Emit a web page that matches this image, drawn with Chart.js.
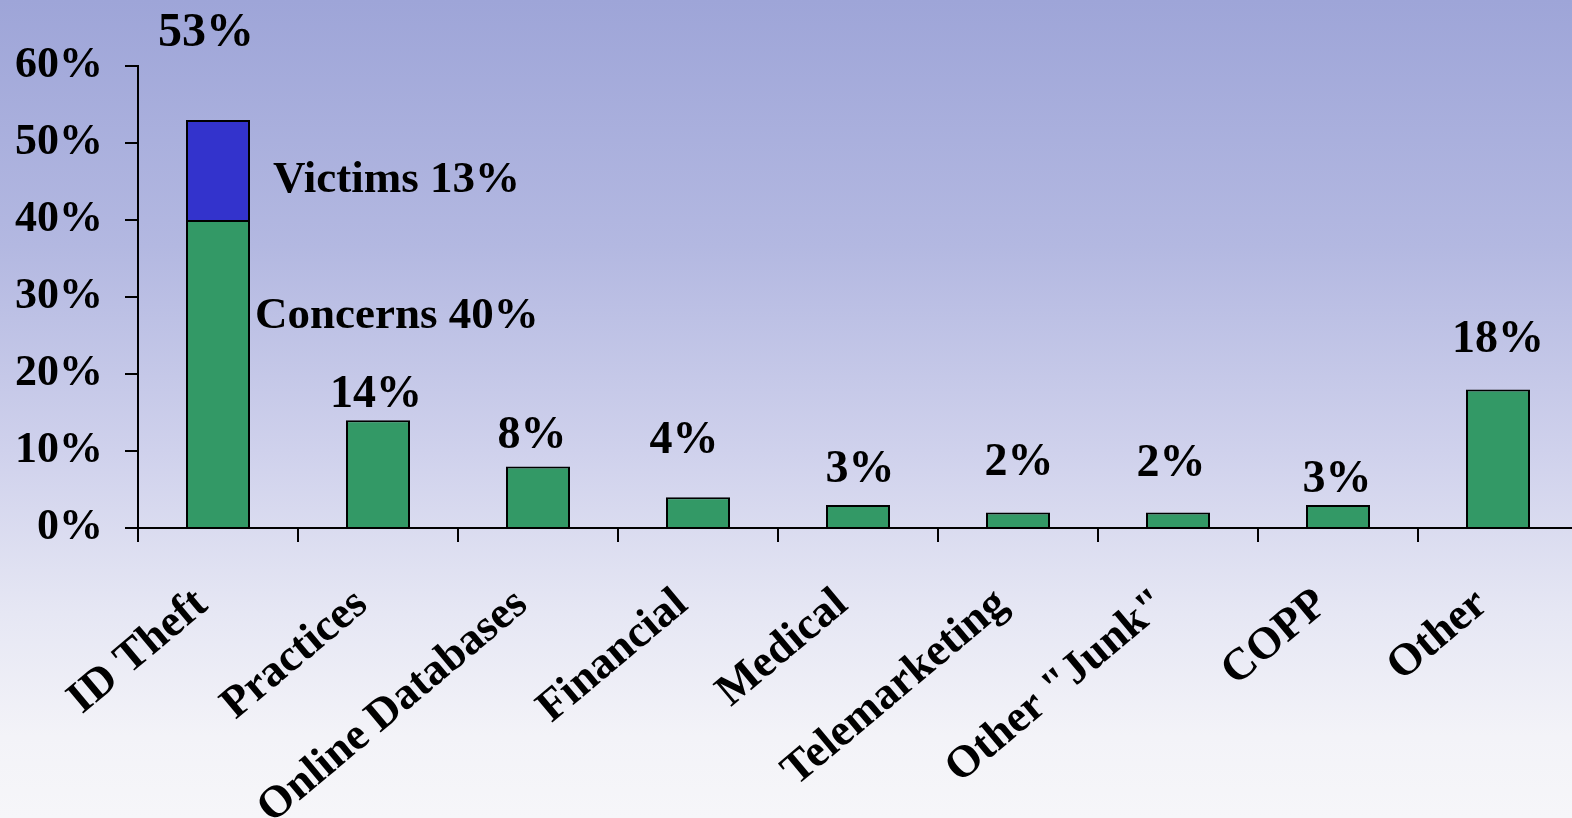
<!DOCTYPE html>
<html>
<head>
<meta charset="utf-8">
<script src="https://cdn.jsdelivr.net/npm/chart.js@4.4.1/dist/chart.umd.min.js"></script>
<style>
  html, body {
    margin: 0;
    padding: 0;
    width: 1572px;
    height: 818px;
    overflow: hidden;
    background: linear-gradient(to bottom, #9ea5d8 0%, #b3b8e1 30%, #cfd1ec 55%, #e6e7f4 75%, #f3f3f8 90%, #f6f6f9 100%);
  }
  #chart { display: block; }
</style>
</head>
<body>
<canvas id="chart" width="1578" height="818"></canvas>
<script>
// categorias e valores (%)
const categories = ['ID Theft', 'Practices', 'Online Databases', 'Financial', 'Medical',
    'Telemarketing', 'Other "Junk"', 'COPP', 'Other'];
const concerns = [40, 14, 8, 4, 3, 2, 2, 3, 18];
const victims = [13, null, null, null, null, null, null, null, null];
const yTicks = [0, 10, 20, 30, 40, 50, 60];

const serif = '"Liberation Serif", "Times New Roman", serif';

// desloca cada rótulo de total (px) - acerto manual como no slide
const totalLift = [74, 13, 18, 44, 23, 38, 37, 13, 37];
const totalShift = [-12, -2, -6, -14, 2, 1, -7, -1, 0];

const totalsPlugin = {
    id: 'totals',
    afterDatasetsDraw(chart) {
        const ctx = chart.ctx;
        const y = chart.scales.y;
        const metaC = chart.getDatasetMeta(0);
        ctx.save();
        ctx.fillStyle = '#000';
        ctx.textAlign = 'center';
        ctx.textBaseline = 'alphabetic';
        categories.forEach((c, i) => {
            const total = concerns[i] + (victims[i] || 0);
            const bar = metaC.data[i];
            const top = y.getPixelForValue(total);
            ctx.font = 'bold ' + (i === 0 ? 48 : 46) + 'px ' + serif;
            ctx.fillText(total + '%', bar.x + totalShift[i], top - totalLift[i]);
        });
        // rótulos dos segmentos da primeira barra
        const bar0 = metaC.data[0];
        const right = bar0.x + bar0.width / 2;
        ctx.textAlign = 'left';
        ctx.font = 'bold 45px ' + serif;
        const vTop = y.getPixelForValue(concerns[0] + victims[0]);
        ctx.fillText('Victims ' + victims[0] + '%', right + 23, vTop + 72);
        const cTop = y.getPixelForValue(concerns[0]);
        ctx.fillText('Concerns ' + concerns[0] + '%', right + 5, cTop + 108);
        ctx.restore();
    }
};

const chart = new Chart(document.getElementById('chart'), {
    type: 'bar',
    data: {
        labels: categories,
        datasets: [{
            label: 'Concerns',
            data: concerns,
            backgroundColor: '#339966',
            borderColor: '#000',
            borderWidth: 2,
            borderSkipped: 'bottom',
            barPercentage: 0.4,
            categoryPercentage: 1.0
        }, {
            label: 'Victims',
            data: victims,
            backgroundColor: '#3333cc',
            borderColor: '#000',
            borderWidth: 2,
            borderSkipped: 'bottom',
            barPercentage: 0.4,
            categoryPercentage: 1.0
        }]
    },
    options: {
        responsive: false,
        animation: false,
        layout: { padding: { top: 66, right: 0, left: 0, bottom: 0 } },
        plugins: {
            legend: { display: false },
            tooltip: { enabled: false }
        },
        scales: {
            x: {
                stacked: true,
                border: { color: '#000', width: 2 },
                grid: {
                    offset: true,
                    drawOnChartArea: false,
                    color: '#000',
                    lineWidth: 2,
                    tickLength: 14
                },
                ticks: {
                    color: '#000',
                    font: { family: serif, size: 45, weight: 'bold' },
                    minRotation: 40,
                    maxRotation: 40,
                    padding: 36,
                    labelOffset: -16,
                    autoSkip: false
                },
                afterFit(scale) { scale.height = 818 - 528; }
            },
            y: {
                stacked: true,
                min: 0,
                max: 60,
                border: { color: '#000', width: 2 },
                grid: {
                    drawOnChartArea: false,
                    color: '#000',
                    lineWidth: 2,
                    tickLength: 13
                },
                afterBuildTicks(scale) {
                    scale.ticks = yTicks.map(v => ({ value: v }));
                },
                ticks: {
                    color: '#000',
                    font: { family: serif, size: 44, weight: 'bold' },
                    padding: 22,
                    callback: v => v + '%'
                },
                afterFit(scale) { scale.width = 138; }
            }
        }
    },
    plugins: [totalsPlugin]
});
</script>
</body>
</html>
